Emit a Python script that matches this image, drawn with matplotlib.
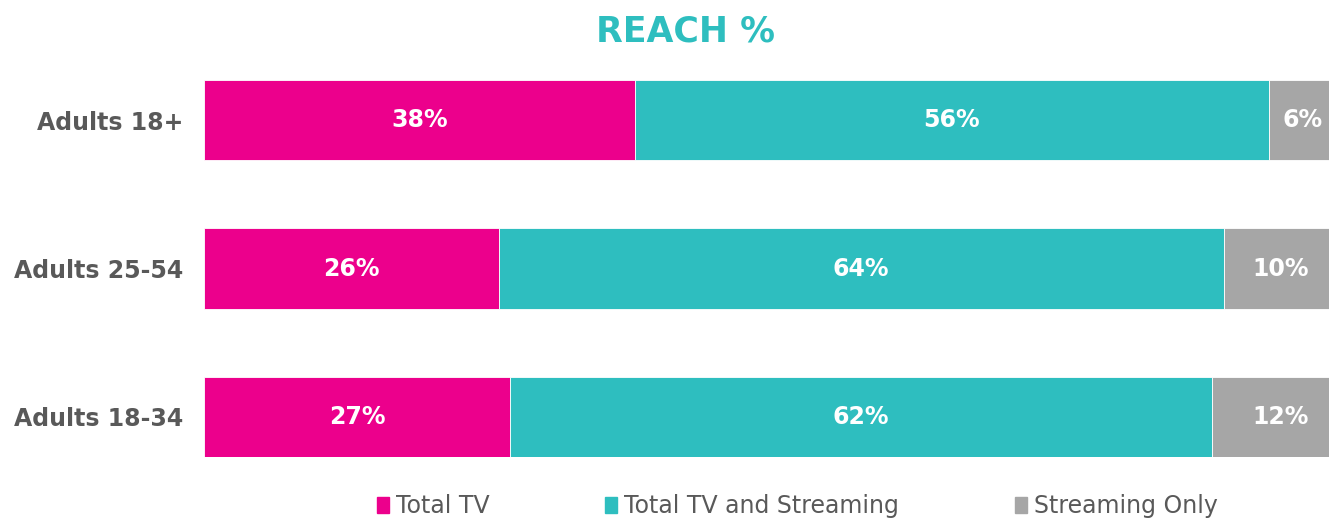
import matplotlib.pyplot as plt
from matplotlib.patches import Patch

# Data
groups = ['Adults 18+', 'Adults 25-54', 'Adults 18-34']
series = ['Total TV', 'Total TV and Streaming', 'Streaming Only']
total_tv = [38, 26, 27]
tv_and_streaming = [56, 64, 62]
streaming_only = [6, 10, 12]

colors = ['#EC008C', '#2EBEBF', '#A6A6A6']
label_grey = '#595959'

plt.rcParams['font.family'] = ['DejaVu Sans']

fig = plt.figure(figsize=(13.29, 5.19), dpi=100)
ax = fig.add_axes([204 / 1329, 1 - 457 / 519, 1 - 204 / 1329, (457 - 80) / 519])

y = range(len(groups))
left = [0] * len(groups)
for vals, col in zip([total_tv, tv_and_streaming, streaming_only], colors):
    bars = ax.barh(y, vals, left=left, height=0.54, color=col,
                   edgecolor='white', linewidth=0.6)
    for b, v in zip(bars, vals):
        cx = b.get_x() + b.get_width() / 2
        if cx > 99:
            cx = b.get_x() + 2.6
        ax.text(cx, b.get_y() + b.get_height() / 2, f'{v}%', color='white',
                ha='center', va='center', fontsize=17, fontweight='bold')
    left = [l + v for l, v in zip(left, vals)]

ax.set_xlim(0, 99.3)
ax.set_ylim(2.27, -0.27)
ax.set_yticks(list(y))
ax.set_yticklabels(groups, fontsize=17, fontweight='bold', color=label_grey)
ax.tick_params(axis='y', length=0, pad=15)
ax.set_xticks([])
for s in ax.spines.values():
    s.set_visible(False)

fig.text(0.516, 0.94, 'REACH %', ha='center', va='center', fontsize=25,
         fontweight='bold', color='#2EBEBF')

handles = [Patch(color=c) for c in colors]
fig.legend(handles, series, loc='center', bbox_to_anchor=(0.6, 0.025), ncol=3,
           frameon=False, fontsize=17, handlelength=0.5, handleheight=0.65,
           handletextpad=0.3, columnspacing=4.9, labelcolor=label_grey)

fig.savefig('out.png', dpi=100)
